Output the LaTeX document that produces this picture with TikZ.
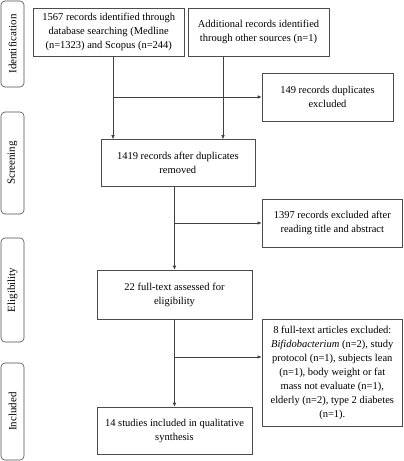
\documentclass[tikz,border=0pt]{standalone}
\usepackage{fontspec}
\setmainfont{Liberation Serif}
\usetikzlibrary{arrows.meta}
\begin{document}
\begin{tikzpicture}[x=1pt,y=-1pt]
\tikzstyle{box} = [draw=black!70,line width=0.6pt,align=center,inner sep=2pt,font=\fontsize{10.5}{14}\selectfont] %cadres
\tikzstyle{phase} = [draw=black!70,line width=0.6pt,rounded corners=4pt,minimum width=23pt,font=\fontsize{11}{13}\selectfont] %étapes
\tikzstyle{arr} = [draw=black!75,line width=0.6pt,-{Latex[length=4pt,width=3.5pt]}]
\useasboundingbox (0,0) rectangle (404,461);

%étapes à gauche
\node[phase,minimum height=86pt] (ident) at (12.5,44) {};
\node[rotate=90,font=\fontsize{11}{13}\selectfont] at (ident) {Identification};
\node[phase,minimum height=102pt] (screen) at (12.5,163) {};
\node[rotate=90,font=\fontsize{11}{13}\selectfont] at (screen) {Screening};
\node[phase,minimum height=104pt] (elig) at (12.5,290) {};
\node[rotate=90,font=\fontsize{11}{13}\selectfont] at (elig) {Eligibility};
\node[phase,minimum height=97pt] (incl) at (12.5,411.5) {};
\node[rotate=90,font=\fontsize{11}{13}\selectfont] at (incl) {Included};

%cadres
\node[box,minimum width=150.5pt,minimum height=48pt] (db) at (108.75,32)
  {1567 records identified through\\database searching (Medline\\(n=1323) and Scopus (n=244)};
\node[box,minimum width=141pt,minimum height=48pt] (other) at (258.5,32)
  {Additional records identified\\through other sources (n=1)};
\node[box,minimum width=131pt,minimum height=48pt] (dup) at (327.5,97)
  {149 records duplicates\\excluded};
\node[box,minimum width=154pt,minimum height=47pt] (after) at (177.8,163)
  {1419 records after duplicates\\removed};
\node[box,minimum width=140.7pt,minimum height=48pt] (title) at (332.3,223)
  {1397 records excluded after\\reading title and abstract};
\node[box,minimum width=155pt,minimum height=49pt] (full) at (174.5,294.5)
  {22 full-text assessed for\\eligibility};
\node[box,minimum width=140.7pt,minimum height=107pt] (excl) at (332.3,372.5)
  {8 full-text articles excluded:\\\textit{Bifidobacterium} (n=2), study\\protocol (n=1), subjects lean\\(n=1), body weight or fat\\mass not evaluate (n=1),\\elderly (n=2), type 2 diabetes\\(n=1).};
\node[box,minimum width=155pt,minimum height=47pt] (qual) at (174.5,430.5)
  {14 studies included in qualitative\\synthesis};

%flèches
\coordinate (a) at ([xshift=4.25pt]db.south);
\coordinate (b) at ([xshift=-35.5pt]other.south);
\draw[arr] (a) -- (a |- after.north);
\draw[arr] (b) -- (b |- after.north);
\draw[arr] (a |- dup.west) -- (dup.west);
\draw[arr] (full.north |- after.south) -- (full.north);
\draw[arr] (full.north |- title.west) -- (title.west);
\draw[arr] (qual.north |- full.south) -- (qual.north);
\coordinate (c) at ([yshift=15.5pt]excl.west);
\draw[arr] (qual.north |- c) -- (c);
\end{tikzpicture}
\end{document}
